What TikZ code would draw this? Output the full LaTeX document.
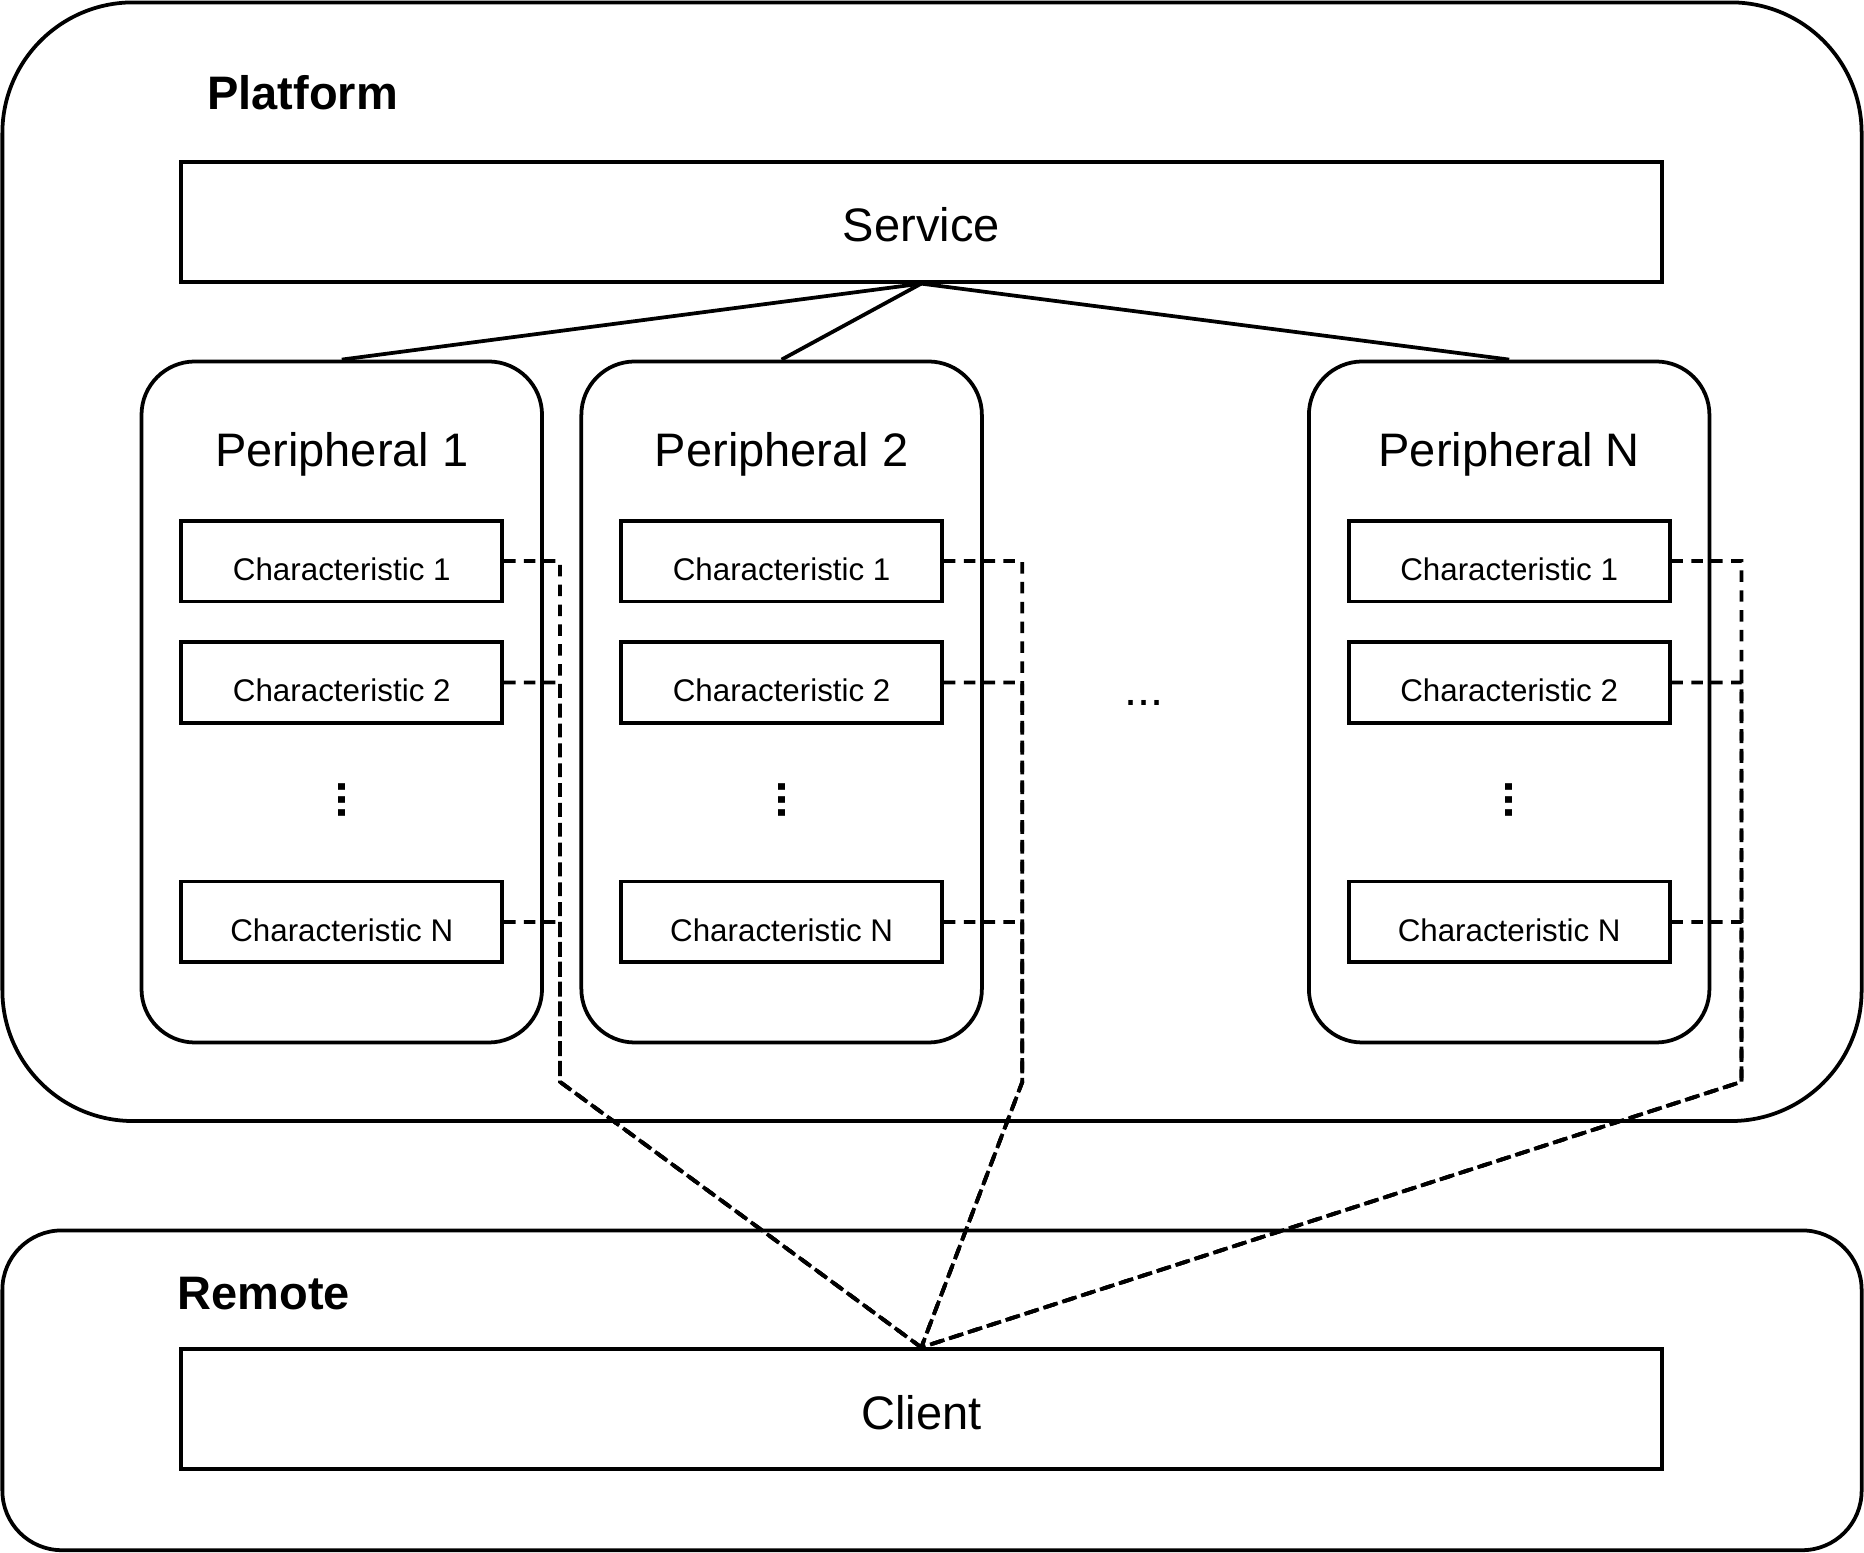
\documentclass[tikz,border=0pt]{standalone}
\usepackage{fontspec}
\setmainfont{Liberation Sans}
\usetikzlibrary{positioning}

\begin{document}
\begin{tikzpicture}[x=0.02cm, y=-0.02cm, line width=1.8pt,
    every node/.style={font=\fontsize{22.5}{27}\selectfont},
    group/.style={draw, rounded corners=2.2cm},
    bar/.style={draw, minimum width=24.92cm, minimum height=2.02cm,
        text height=19pt, text depth=0pt},
    periph/.style={draw, rounded corners=0.9cm, minimum width=6.74cm, minimum height=11.46cm},
    charbox/.style={draw, minimum width=5.4cm, minimum height=1.36cm,
        font=\fontsize{15}{18}\selectfont, text height=18.5pt, text depth=0pt},
    vdots/.style={rotate=90, font=\bfseries\fontsize{22.5}{27}\selectfont},
    link/.style={dash pattern=on 5.5pt off 4pt},
    node distance=0.62cm]
\useasboundingbox (0,0) rectangle (1568,1306);

% The two big groups, with their bold labels
\draw[group] (2,2) rectangle (1566,943);
\draw[group, rounded corners=1cm] (2,1035) rectangle (1566,1304);
\node[anchor=west, font=\bfseries\fontsize{22.5}{27}\selectfont] (plat) at (167,78) {Platform};
\node[anchor=west, font=\bfseries\fontsize{22.5}{27}\selectfont] (remote) at (142,1088) {Remote};

\node[bar] (service) at (775,186.5) {Service};
\node[bar] (client) at (775,1185.5) {Client};

% Peripheral 1
\node[periph] (p1) at (287.5,590.5) {};
\node (t1) at (287.5,382) {Peripheral 1};
\node[charbox] (c11) at (287.5,472) {Characteristic 1};
\node[charbox, below=of c11] (c12) {Characteristic 2};
\node[vdots] (d1) at (287.5,673) {...};
\node[charbox] (c1n) at (287.5,775.5) {Characteristic N};

% Peripheral 2
\node[periph] (p2) at (657.5,590.5) {};
\node (t2) at (657.5,382) {Peripheral 2};
\node[charbox] (c21) at (657.5,472) {Characteristic 1};
\node[charbox, below=of c21] (c22) {Characteristic 2};
\node[vdots] (d2) at (657.5,673) {...};
\node[charbox] (c2n) at (657.5,775.5) {Characteristic N};

% the gap between peripheral 2 and N
\node (gap) at (962,591) {...};

% Peripheral N
\node[periph] (pn) at (1269.5,590.5) {};
\node (tn) at (1269.5,382) {Peripheral N};
\node[charbox] (cn1) at (1269.5,472) {Characteristic 1};
\node[charbox, below=of cn1] (cn2) {Characteristic 2};
\node[vdots] (dn) at (1269.5,673) {...};
\node[charbox] (cnn) at (1269.5,775.5) {Characteristic N};

% The service holds every peripheral
\draw (service.south) -- (p1.north);
\draw (service.south) -- (p2.north);
\draw (service.south) -- (pn.north);

% Bends where the dashed links leave the platform
\coordinate (k1) at (471,910);
\coordinate (k2) at (860,910);
\coordinate (kn) at (1465,910);

% Each characteristic is linked to the client
\draw[link] (c11.east) -- (c11.east -| k1) -- (k1) -- (client.north);
\draw[link] (c12.east) -- (c12.east -| k1) -- (k1) -- (client.north);
\draw[link] (c1n.east) -- (c1n.east -| k1) -- (k1) -- (client.north);
\draw[link] (c21.east) -- (c21.east -| k2) -- (k2) -- (client.north);
\draw[link] (c22.east) -- (c22.east -| k2) -- (k2) -- (client.north);
\draw[link] (c2n.east) -- (c2n.east -| k2) -- (k2) -- (client.north);
\draw[link] (cn1.east) -- (cn1.east -| kn) -- (kn) -- (client.north);
\draw[link] (cn2.east) -- (cn2.east -| kn) -- (kn) -- (client.north);
\draw[link] (cnn.east) -- (cnn.east -| kn) -- (kn) -- (client.north);
\end{tikzpicture}
\end{document}
